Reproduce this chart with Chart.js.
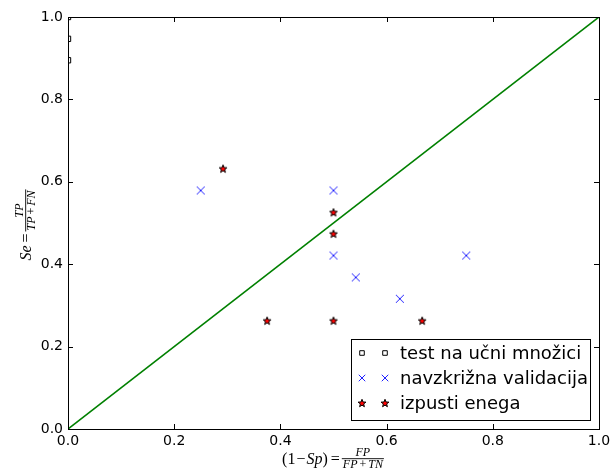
<!DOCTYPE html>
<html>
<head>
<meta charset="utf-8">
<script src="https://cdn.jsdelivr.net/npm/chart.js@4"></script>
<style>
  html, body { margin: 0; padding: 0; background: #fff; }
  #wrap { width: 611px; height: 473px; }
</style>
</head>
<body>
<div id="wrap"><canvas id="roc" width="611" height="473"></canvas></div>
<script>
// ROC points: false positive rate (1 - Sp) and sensitivity (Se) per evaluation method
const seriesLabels = ['test na učni množici', 'navzkrižna validacija', 'izpusti enega'];
const trainFpr = [0, 0, 0];
const trainSe  = [1.0, 0.947, 0.895];
const cvFpr = [0.25, 0.5, 0.5, 0.542, 0.625, 0.75];
const cvSe  = [0.579, 0.579, 0.421, 0.368, 0.316, 0.421];
const looFpr = [0.292, 0.5, 0.5, 0.375, 0.5, 0.667];
const looSe  = [0.632, 0.526, 0.474, 0.263, 0.263, 0.263];
const chanceFpr = [0, 1];
const chanceSe  = [0, 1];
const tickValues = [0, 0.2, 0.4, 0.6, 0.8, 1.0];

const toPoints = (xs, ys) => xs.map((x, i) => ({ x: x, y: ys[i] }));

// filled red star with black edge
function makeStar() {
  const s = 12, c = document.createElement('canvas');
  c.width = s; c.height = s;
  const g = c.getContext('2d');
  const R = 4.1, r = R * 0.42, cx = s / 2, cy = s / 2 + 0.4;
  g.beginPath();
  for (let i = 0; i < 10; i++) {
    const a = -Math.PI / 2 + i * Math.PI / 5;
    const rr = i % 2 ? r : R;
    g.lineTo(cx + rr * Math.cos(a), cy + rr * Math.sin(a));
  }
  g.closePath();
  g.fillStyle = '#ff0000';
  g.fill();
  g.lineWidth = 1;
  g.strokeStyle = '#000';
  g.stroke();
  return c;
}

// thin blue diagonal cross
function makeCross(size) {
  const s = 12, c = document.createElement('canvas');
  c.width = s; c.height = s;
  const g = c.getContext('2d');
  const h = size / 2, m = s / 2;
  g.strokeStyle = '#2020ff';
  g.lineWidth = 1;
  g.beginPath();
  g.moveTo(m - h, m - h); g.lineTo(m + h, m + h);
  g.moveTo(m - h, m + h); g.lineTo(m + h, m - h);
  g.stroke();
  return c;
}
const starMark = makeStar();
const crossMark = makeCross(8);
const crossMarkSmall = makeCross(6.5);

// Render "prefix = numerator / denominator" in a serif math style
function drawMath(ctx, cx, cy, rot, main, num, den) {
  const fam = '"Liberation Serif", "DejaVu Serif", serif';
  const F = 16, f = 12;
  const font = (it, sz) => (it ? 'italic ' : '') + sz + 'px ' + fam;
  const width = (segs, sz) => segs.reduce((a, s) => {
    if (typeof s === 'number') return a + s;
    ctx.font = font(s[1], sz);
    return a + ctx.measureText(s[0]).width;
  }, 0);
  const drawSegs = (segs, sz, x, y) => {
    segs.forEach(s => {
      if (typeof s === 'number') { x += s; return; }
      ctx.font = font(s[1], sz);
      ctx.fillText(s[0], x, y);
      x += ctx.measureText(s[0]).width;
    });
  };
  ctx.save();
  ctx.translate(cx, cy);
  if (rot) ctx.rotate(rot);
  ctx.fillStyle = '#000';
  ctx.textBaseline = 'alphabetic';
  ctx.textAlign = 'left';
  const mw = width(main, F);
  const nw = width(num, f), dw = width(den, f);
  const fw = Math.max(nw, dw) + 2;
  const total = mw + fw;
  let x = -total / 2;
  drawSegs(main, F, x, 0);
  x += mw;
  const barY = -5.3;
  ctx.fillRect(x, barY - 0.45, fw, 0.9);
  drawSegs(num, f, x + (fw - nw) / 2, barY - 2.5);
  drawSegs(den, f, x + (fw - dw) / 2, barY + 8.8);
  ctx.restore();
}

const frame = {
  id: 'frame',
  afterDatasetsDraw(chart) {
    const { ctx, chartArea: a, scales } = chart;
    ctx.save();
    ctx.strokeStyle = '#000';
    ctx.lineWidth = 1;
    // inward tick marks on all four sides
    ctx.beginPath();
    tickValues.forEach(v => {
      const px = Math.round(scales.x.getPixelForValue(v)) + 0.5;
      ctx.moveTo(px, a.bottom); ctx.lineTo(px, a.bottom - 5);
      ctx.moveTo(px, a.top); ctx.lineTo(px, a.top + 5);
      const py = Math.round(scales.y.getPixelForValue(v)) + 0.5;
      ctx.moveTo(a.left, py); ctx.lineTo(a.left + 5, py);
      ctx.moveTo(a.right, py); ctx.lineTo(a.right - 5, py);
    });
    ctx.stroke();
    ctx.strokeRect(Math.round(a.left) + 0.5, Math.round(a.top) + 0.5,
      Math.round(a.right - a.left), Math.round(a.bottom - a.top));

    // legend with two markers per entry
    const lx = 351.5, ly = 339.5, lw = 239, lh = 81;
    ctx.fillStyle = '#fff';
    ctx.fillRect(lx, ly, lw, lh);
    ctx.strokeRect(lx, ly, lw, lh);
    const ds = chart.data.datasets;
    for (let i = 0; i < 3; i++) {
      const d = ds[i];
      const y = 353 + i * 25;
      const style = d.pointStyle === crossMark ? crossMarkSmall : d.pointStyle;
      [362, 385].forEach(mx => {
        ctx.save();
        ctx.fillStyle = d.backgroundColor || 'rgba(0,0,0,0)';
        ctx.strokeStyle = d.borderColor || '#000';
        ctx.lineWidth = d.borderWidth || 1;
        Chart.helpers.drawPoint(ctx, { pointStyle: style, radius: d.pointRadius * 0.85, rotation: 0, borderWidth: d.borderWidth || 1 }, mx, y);
        ctx.restore();
      });
      ctx.fillStyle = '#000';
      ctx.font = '18px "DejaVu Sans"';
      ctx.textBaseline = 'middle';
      ctx.textAlign = 'left';
      ctx.fillText(d.label, 400, y + 1);
    }

    // axis titles
    drawMath(ctx, 333, 464, 0,
      [['(1', false], 1, ['\u2212', false], 1, ['Sp', true], [')', false], 3, ['=', false], 2],
      [['FP', true]],
      [['FP', true], 2, ['+', false], 2, ['TN', true]]);
    drawMath(ctx, 31, 225, -Math.PI / 2,
      [['Se', true], 3, ['=', false], 2],
      [['TP', true]],
      [['TP', true], 2, ['+', false], 2, ['FN', true]]);
    ctx.restore();
  }
};

const tickFont = { family: 'DejaVu Sans', size: 14 };

new Chart(document.getElementById('roc'), {
  type: 'scatter',
  data: {
    datasets: [
      { label: seriesLabels[0], data: toPoints(trainFpr, trainSe), pointStyle: 'rect', pointRadius: 3.8,
        backgroundColor: 'rgba(0,0,0,0)', borderColor: '#000', borderWidth: 1, clip: 0 },
      { label: seriesLabels[1], data: toPoints(cvFpr, cvSe), pointStyle: crossMark, pointRadius: 5,
        backgroundColor: '#0000ff', borderColor: '#0000ff', borderWidth: 1, clip: 0 },
      { label: seriesLabels[2], data: toPoints(looFpr, looSe), pointStyle: starMark, pointRadius: 5,
        backgroundColor: '#ff0000', borderColor: '#000', borderWidth: 1, clip: 0 },
      { type: 'line', label: 'chance', data: toPoints(chanceFpr, chanceSe), borderColor: '#008000',
        borderWidth: 1.6, pointRadius: 0, showLine: true, fill: false, clip: 0 }
    ]
  },
  options: {
    responsive: false,
    animation: false,
    devicePixelRatio: 1,
    events: [],
    layout: { padding: { top: 17, right: 12, left: 0, bottom: 0 } },
    plugins: { legend: { display: false }, tooltip: { enabled: false } },
    scales: {
      x: {
        type: 'linear', min: 0, max: 1,
        afterBuildTicks: s => { s.ticks = tickValues.map(v => ({ value: v })); },
        afterFit: s => { s.height = 44; s.paddingLeft = 0; s.paddingRight = 0; },
        grid: { display: false, drawTicks: false },
        border: { display: false },
        ticks: { padding: 4, font: tickFont, color: '#000', maxRotation: 0, autoSkip: false,
          callback: v => v.toFixed(1) }
      },
      y: {
        type: 'linear', min: 0, max: 1,
        afterBuildTicks: s => { s.ticks = tickValues.map(v => ({ value: v })); },
        afterFit: s => { s.width = 68; s.paddingTop = 0; s.paddingBottom = 0; },
        grid: { display: false, drawTicks: false },
        border: { display: false },
        ticks: { padding: 5, font: tickFont, color: '#000', autoSkip: false,
          callback: v => v.toFixed(1) }
      }
    }
  },
  plugins: [frame]
});
</script>
</body>
</html>
